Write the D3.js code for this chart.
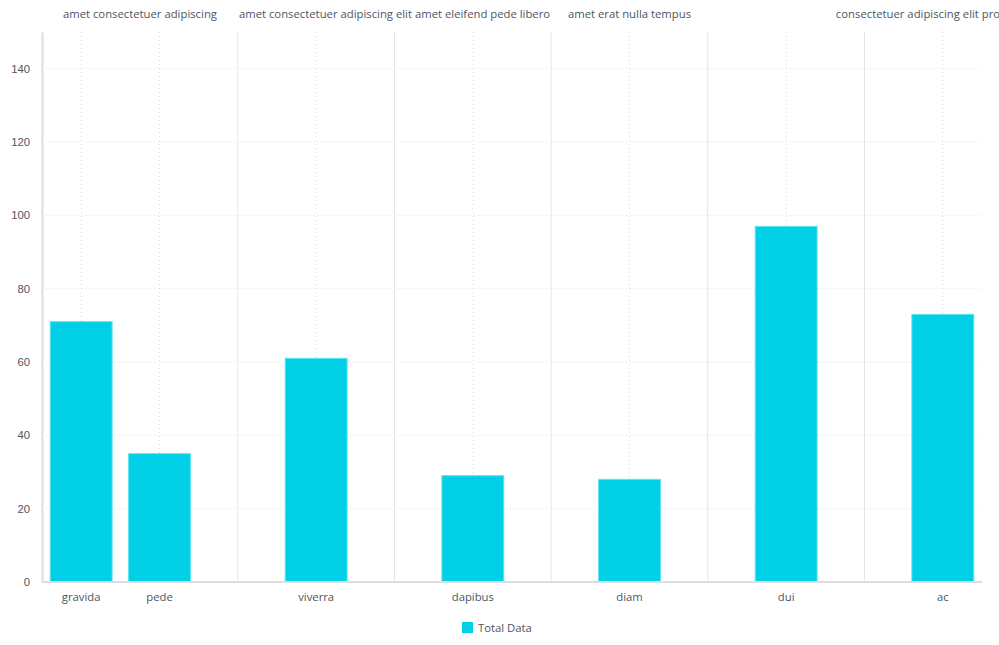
<!DOCTYPE html>
<html>
<head>
<meta charset="utf-8">
<style>
body { margin: 0; background: #fff; font-family: "Open Sans", sans-serif; }
.tick text, .lbl { fill: #4e5462; font-size: 11.3px; }
</style>
</head>
<body>
<script src="https://cdn.jsdelivr.net/npm/d3@7"></script>
<script>
// data
var categories = ["gravida", "pede", "viverra", "dapibus", "diam", "dui", "ac"];
var slots = [0, 1, 3, 5, 7, 9, 11];           // position on the category axis
var values = [71, 35, 61, 29, 28, 97, 73];
var separators = [2, 4, 6, 8, 10];             // empty slots between groups
var groupLabels = ["amet consectetuer adipiscing",
                   "amet consectetuer adipiscing elit amet eleifend pede libero",
                   "amet erat nulla tempus",
                   "consectetuer adipiscing elit proin nibh et"];
var groupFrom = [0, 3, 7, 11];
var groupTo = [1, 5, 7, 11];
var yTicks = [0, 20, 40, 60, 80, 100, 120, 140];
var seriesName = "Total Data";

var width = 999, height = 645;
var plotLeft = 42, plotRight = 982, plotTop = 32, plotBottom = 582;
var barColor = "#00cfe6";

var svg = d3.select("body").append("svg")
  .attr("width", width).attr("height", height);

var x = d3.scaleBand().domain(d3.range(12)).range([plotLeft, plotRight]).paddingInner(0.21).paddingOuter(0.105);
var step = (plotRight - plotLeft) / 12;
var xc = function(s) { return plotLeft + (s + 0.5) * step; };
var y = d3.scaleLinear().domain([0, 150]).range([plotBottom, plotTop]);

// horizontal grid
svg.append("g").selectAll("line").data(yTicks.slice(1)).enter().append("line")
  .attr("x1", plotLeft).attr("x2", plotRight)
  .attr("y1", function(d) { return y(d); }).attr("y2", function(d) { return y(d); })
  .attr("stroke", "#d9dde5").attr("stroke-dasharray", "1,3");

// vertical grid at every slot
svg.append("g").selectAll("line").data(d3.range(12)).enter().append("line")
  .attr("x1", function(d) { return xc(d); }).attr("x2", function(d) { return xc(d); })
  .attr("y1", plotTop).attr("y2", plotBottom)
  .attr("stroke", function(d) { return separators.indexOf(d) >= 0 ? "#e3e5ea" : "#d9dde5"; })
  .attr("stroke-dasharray", function(d) { return separators.indexOf(d) >= 0 ? null : "1,3"; });

// bars
svg.append("g").selectAll("rect").data(values).enter().append("rect")
  .attr("x", function(d, i) { return x(slots[i]); })
  .attr("width", x.bandwidth())
  .attr("y", function(d) { return y(d); })
  .attr("height", function(d) { return plotBottom - y(d); })
  .attr("fill", barColor)
  .attr("stroke", "#5fe3f0").attr("stroke-width", 1);

// y axis
var yAxis = svg.append("g").attr("transform", "translate(" + plotLeft + ",0)")
  .call(d3.axisLeft(y).tickValues(yTicks).tickSize(0).tickPadding(12));
yAxis.select(".domain").attr("stroke", "#dcdde1").attr("stroke-width", 2);
yAxis.selectAll("text").attr("font-family", null).attr("font-size", null);

// x axis baseline
svg.append("line").attr("x1", plotLeft).attr("x2", plotRight).attr("y1", plotBottom).attr("y2", plotBottom)
  .attr("stroke", "#dcdde1").attr("stroke-width", 2);

// category labels
svg.append("g").selectAll("text").data(categories).enter().append("text")
  .attr("class", "lbl")
  .attr("x", function(d, i) { return xc(slots[i]); })
  .attr("y", 601)
  .attr("text-anchor", "middle")
  .text(function(d) { return d; });

// group labels on top, centred over their group
svg.append("g").selectAll("text").data(groupLabels).enter().append("text")
  .attr("class", "lbl")
  .attr("x", function(d, i) {
    var a = groupFrom[i] === 0 ? plotLeft : xc(groupFrom[i] - 1);
    return (a + xc(groupTo[i] + 1)) / 2;
  })
  .attr("y", 18)
  .attr("text-anchor", "middle")
  .text(function(d) { return d; });

// legend
var lg = svg.append("g").attr("transform", "translate(462,622)");
lg.append("rect").attr("width", 11).attr("height", 11).attr("fill", barColor);
lg.append("text").attr("class", "lbl").attr("x", 16).attr("y", 10).text(seriesName);
</script>
</body>
</html>
